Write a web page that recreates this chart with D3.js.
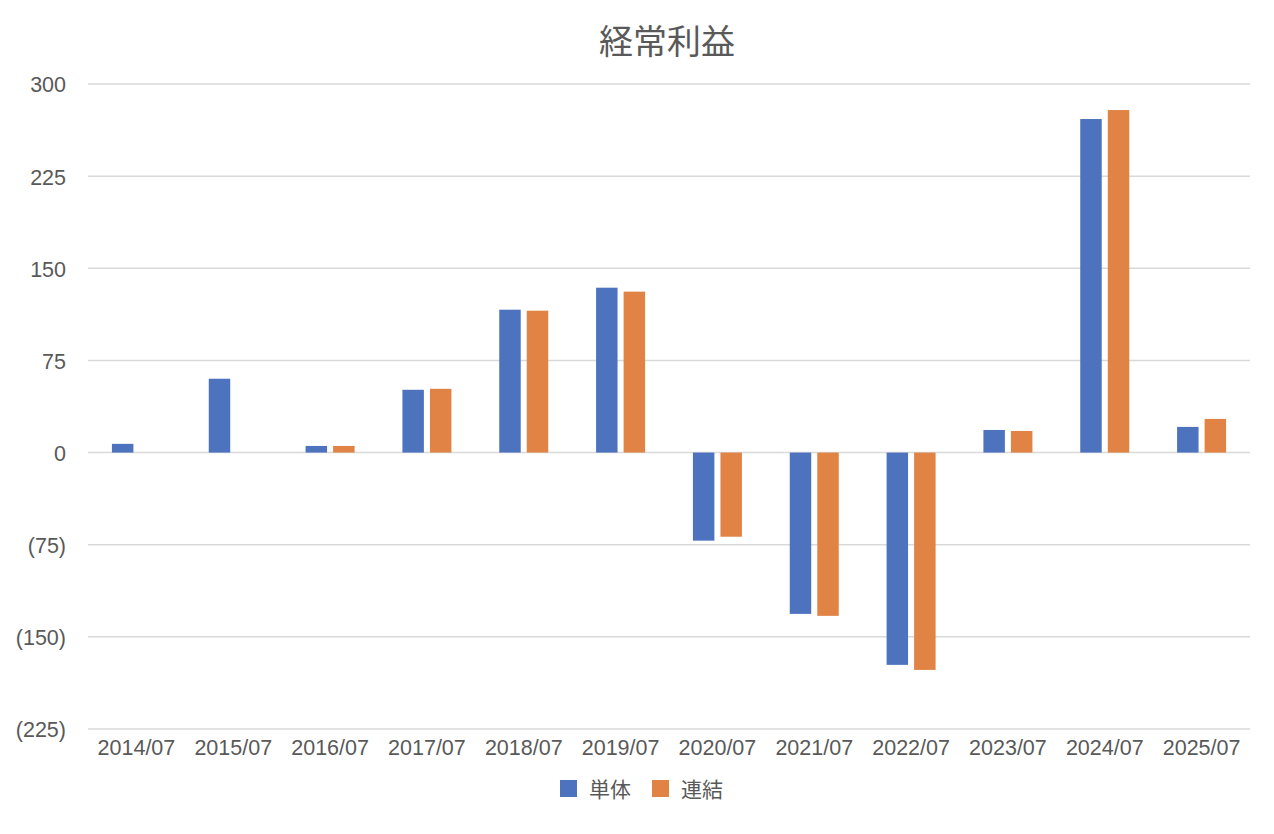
<!DOCTYPE html>
<html><head><meta charset="utf-8">
<script src="https://cdn.jsdelivr.net/npm/d3@7"></script>
<style>
body{margin:0;background:#fff;}
svg text{fill:#595959;}
</style></head>
<body>
<svg id="chart" width="1274" height="834"></svg>
<script>
const categories = ["2014/07","2015/07","2016/07","2017/07","2018/07","2019/07","2020/07","2021/07","2022/07","2023/07","2024/07","2025/07"];
const seriesNames = ["単体","連結"];
const tanTai = [7.1, 60.1, 5.4, 51.1, 116.3, 134.2, -71.7, -131.3, -172.8, 18.4, 271.5, 20.9];
const renketsu = [null, null, 5.4, 51.9, 115.5, 131.0, -68.5, -132.9, -176.9, 17.6, 278.8, 27.4];
const yTicks = [300, 225, 150, 75, 0, -75, -150, -225];
const colors = ["#4E73BE", "#E08344"];
const title = "経常利益";

(function(){
const seriesValues = [tanTai, renketsu];
const svg = d3.select("#chart");
const pLeft = 88, pRight = 1250, pTop = 84, pBottom = 729;

const x0 = d3.scaleBand().domain(categories).range([pLeft, pRight]).paddingInner(0.494).paddingOuter(0.247);
const x1 = d3.scaleBand().domain(seriesNames).range([0, x0.bandwidth()]).paddingInner(0.22).paddingOuter(0);
const y = d3.scaleLinear().domain([-225, 300]).range([pBottom, pTop]);

svg.append("g").selectAll("line").data(yTicks).join("line")
  .attr("x1", pLeft).attr("x2", pRight)
  .attr("y1", d => y(d)).attr("y2", d => y(d))
  .attr("stroke", "#D9D9D9").attr("stroke-width", 1.5);

const fmt = d => d < 0 ? "(" + Math.abs(d) + ")" : String(d);
const yAxis = d3.axisLeft(y).tickValues(yTicks).tickFormat(fmt).tickSize(0).tickPadding(0);
const gy = svg.append("g").attr("transform", "translate(66,1)").call(yAxis);
gy.select(".domain").remove();
gy.selectAll("text").attr("font-family", "'Liberation Sans', Arial, sans-serif").attr("font-size", 21.5).style("fill", "#595959");

const xAxis = d3.axisBottom(x0).tickSize(0).tickPadding(0);
const gx = svg.append("g").attr("transform", "translate(0,740)").call(xAxis);
gx.select(".domain").remove();
gx.selectAll("text").attr("font-family", "'Liberation Sans', Arial, sans-serif").attr("font-size", 21.5).style("fill", "#595959");

const data = [];
categories.forEach((c, i) => seriesNames.forEach((s, j) => {
  const v = seriesValues[j][i];
  if (v !== null) data.push({c, s, v, j});
}));
svg.append("g").selectAll("rect").data(data).join("rect")
  .attr("x", d => x0(d.c) + x1(d.s))
  .attr("width", x1.bandwidth())
  .attr("y", d => y(Math.max(0, d.v)))
  .attr("height", d => Math.abs(y(d.v) - y(0)))
  .attr("fill", d => colors[d.j]);

svg.append("text").attr("x", 667).attr("y", 54).attr("text-anchor", "middle")
  .attr("font-family", "'Noto Sans CJK JP', sans-serif").attr("font-size", 34).text(title);

const legendX = [560, 652];
const lg = svg.append("g").selectAll("g").data(seriesNames).join("g")
  .attr("transform", (d, i) => `translate(${legendX[i]},780)`);
lg.append("rect").attr("width", 17).attr("height", 17).attr("fill", (d, i) => colors[i]);
lg.append("text").attr("x", 29).attr("y", 16.5)
  .attr("font-family", "'Noto Sans CJK JP', sans-serif").attr("font-size", 21).text(d => d);
})();
</script>
</body></html>
